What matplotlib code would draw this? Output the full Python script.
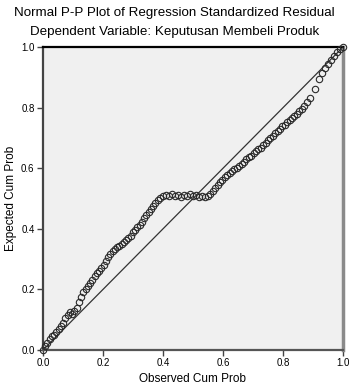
import matplotlib.pyplot as plt

# Observed / expected cumulative probabilities
observed = [
    0.000, 0.008, 0.015, 0.022, 0.030, 0.037, 0.045, 0.052, 0.060, 0.067,
    0.075, 0.082, 0.090, 0.097, 0.105, 0.112, 0.120, 0.127, 0.135, 0.142,
    0.150, 0.157, 0.165, 0.172, 0.180, 0.187, 0.195, 0.202, 0.210, 0.217,
    0.225, 0.232, 0.240, 0.247, 0.255, 0.262, 0.270, 0.277, 0.285, 0.292,
    0.300, 0.307, 0.315, 0.322, 0.330, 0.337, 0.345, 0.352, 0.360, 0.367,
    0.375, 0.382, 0.390, 0.400, 0.410, 0.420, 0.430, 0.440, 0.450, 0.460,
    0.470, 0.480, 0.490, 0.500, 0.510, 0.520, 0.530, 0.540, 0.550, 0.558,
    0.566, 0.574, 0.582, 0.590, 0.598, 0.606, 0.614, 0.622, 0.630, 0.638,
    0.646, 0.654, 0.662, 0.670, 0.678, 0.686, 0.694, 0.702, 0.710, 0.718,
    0.726, 0.734, 0.742, 0.750, 0.758, 0.766, 0.774, 0.782, 0.790, 0.798,
    0.806, 0.814, 0.822, 0.830, 0.838, 0.846, 0.854, 0.862, 0.870, 0.880,
    0.890, 0.905, 0.920, 0.930, 0.940, 0.950, 0.960, 0.970, 0.980, 0.990,
    1.000,
]
expected = [
    0.000, 0.012, 0.022, 0.035, 0.045, 0.050, 0.060, 0.068, 0.080, 0.090,
    0.105, 0.115, 0.125, 0.120, 0.130, 0.140, 0.160, 0.175, 0.190, 0.200,
    0.210, 0.220, 0.232, 0.245, 0.255, 0.262, 0.270, 0.282, 0.295, 0.308,
    0.318, 0.326, 0.334, 0.340, 0.345, 0.350, 0.356, 0.362, 0.370, 0.378,
    0.388, 0.396, 0.405, 0.414, 0.424, 0.436, 0.446, 0.456, 0.466, 0.476,
    0.486, 0.495, 0.502, 0.508, 0.512, 0.510, 0.514, 0.508, 0.512, 0.506,
    0.512, 0.508, 0.514, 0.508, 0.512, 0.506, 0.510, 0.504, 0.508, 0.515,
    0.525, 0.535, 0.545, 0.555, 0.562, 0.570, 0.578, 0.584, 0.590, 0.596,
    0.602, 0.608, 0.615, 0.622, 0.630, 0.636, 0.642, 0.650, 0.656, 0.662,
    0.668, 0.676, 0.684, 0.692, 0.700, 0.708, 0.716, 0.722, 0.730, 0.738,
    0.744, 0.752, 0.758, 0.766, 0.772, 0.780, 0.788, 0.796, 0.806, 0.818,
    0.832, 0.862, 0.895, 0.915, 0.930, 0.945, 0.958, 0.970, 0.982, 0.992,
    1.000,
]
ticks = [0.0, 0.2, 0.4, 0.6, 0.8, 1.0]
tick_labels = ["0.0", "0.2", "0.4", "0.6", "0.8", "1.0"]

plt.rcParams["font.family"] = ["Liberation Sans", "DejaVu Sans"]

fig = plt.figure(figsize=(3.49, 3.92), dpi=100)
ax = fig.add_axes([0.123, 0.107, 0.860, 0.773])
ax.set_facecolor("#f0f0f0")

ax.plot([0, 1], [0, 1], color="#333333", linewidth=0.9, zorder=2)
ax.plot(
    observed,
    expected,
    linestyle="none",
    marker="o",
    markersize=4.6,
    markerfacecolor="none",
    markeredgecolor="#2a2a2a",
    markeredgewidth=0.8,
    zorder=3,
    clip_on=False,
)

ax.set_xlim(0, 1)
ax.set_ylim(0, 1)
ax.set_xticks(ticks)
ax.set_xticklabels(tick_labels, fontsize=7)
ax.set_yticks(ticks)
ax.set_yticklabels(tick_labels, fontsize=7)
ax.tick_params(direction="out", length=4, width=1, color="#444444", pad=2)

ax.spines["top"].set_color("black")
ax.spines["top"].set_linewidth(1.6)
ax.spines["right"].set_color("#8a8a8a")
ax.spines["right"].set_linewidth(2.5)
ax.spines["left"].set_color("#444444")
ax.spines["left"].set_linewidth(1.6)
ax.spines["bottom"].set_color("#555555")
ax.spines["bottom"].set_linewidth(1.6)

ax.set_xlabel("Observed Cum Prob", fontsize=8.5)
ax.set_ylabel("Expected Cum Prob", fontsize=8.5)
ax.xaxis.set_label_coords(0.5, -0.076)
ax.yaxis.set_label_coords(-0.085, 0.5)

fig.text(0.5, 0.968, "Normal P-P Plot of Regression Standardized Residual",
         ha="center", va="center", fontsize=9.6)
fig.text(0.5, 0.918, "Dependent Variable: Keputusan Membeli Produk",
         ha="center", va="center", fontsize=9.6)

fig.savefig("out.png", dpi=100)
